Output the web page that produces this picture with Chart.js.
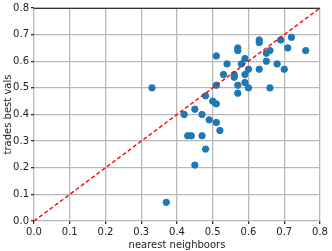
<!DOCTYPE html>
<html>
<head>
<meta charset="utf-8">
<script src="https://cdn.jsdelivr.net/npm/chart.js@4/dist/chart.umd.min.js"></script>
<style>
  html, body { margin:0; padding:0; background:#fff; }
  #wrap { width:332px; height:251px; position:relative; }
</style>
</head>
<body>
<div id="wrap"><canvas id="chart"></canvas></div>
<script>
/* scatter: nearest neighbours vs trades best vals */

const nnVals = [0.33, 0.37, 0.42, 0.43, 0.44, 0.45, 0.45, 0.47, 0.47, 0.48, 0.48, 0.49, 0.50, 0.51, 0.51, 0.51, 0.51, 0.52,
  0.53, 0.54, 0.56, 0.56, 0.57, 0.57, 0.57, 0.57, 0.58, 0.59, 0.59, 0.59, 0.60, 0.60, 0.63, 0.63, 0.63,
  0.65, 0.65, 0.66, 0.66, 0.68, 0.69, 0.70, 0.71, 0.72, 0.76];
const tradeVals = [0.50, 0.07, 0.40, 0.32, 0.32, 0.42, 0.21, 0.40, 0.32, 0.47, 0.27, 0.38, 0.45, 0.44, 0.37, 0.51, 0.62, 0.34,
  0.55, 0.59, 0.55, 0.54, 0.65, 0.64, 0.51, 0.48, 0.59, 0.61, 0.55, 0.52, 0.57, 0.50, 0.68, 0.67, 0.57,
  0.63, 0.60, 0.64, 0.50, 0.59, 0.68, 0.57, 0.65, 0.69, 0.64];
const diagX = [0, 0.8];
const diagY = [0, 0.8];
const tickVals = [0, 0.1, 0.2, 0.3, 0.4, 0.5, 0.6, 0.7, 0.8];

Chart.defaults.font.family = '"DejaVu Sans", sans-serif';
Chart.defaults.font.size = 10;
Chart.defaults.color = '#222';

const topSpine = {
  id: 'topSpine',
  afterDraw(chart) {
    const { ctx, chartArea: a } = chart;
    ctx.save();
    ctx.strokeStyle = '#333';
    ctx.lineWidth = 1;
    ctx.beginPath();
    ctx.moveTo(a.left, a.top + 0.5);
    ctx.lineTo(a.right, a.top + 0.5);
    ctx.stroke();
    ctx.restore();
  }
};

const axisOpts = (title, fixW, fixH) => ({
  type: 'linear', min: 0, max: 0.8,
  afterBuildTicks: s => { s.ticks = tickVals.map(v => ({ value: v })); },
  afterFit: s => { if (fixW) s.width = fixW; if (fixH) s.height = fixH; },
  border: { display: false },
  grid: { color: '#b8b8b8', lineWidth: 1.3, tickColor: '#333', tickLength: 3, drawTicks: true },
  ticks: { color: '#222', padding: 2, font: { size: 10 }, callback: v => v.toFixed(1) },
  title: { display: true, text: title, color: '#222', font: { size: 10 }, padding: { top: 2, bottom: 0 } }
});

const ctx = document.getElementById('chart').getContext('2d');
new Chart(ctx, {
  type: 'scatter',
  data: {
    datasets: [
      {
        label: 'points',
        data: nnVals.map((x, i) => ({ x, y: tradeVals[i] })),
        backgroundColor: '#1f77b4', borderColor: '#1f77b4',
        pointRadius: 3.2, pointHoverRadius: 3.2, order: 2
      },
      {
        label: 'diag', type: 'line',
        data: diagX.map((x, i) => ({ x, y: diagY[i] })),
        borderColor: '#ff0000', borderWidth: 1.4, borderDash: [4, 2.5],
        pointRadius: 0, fill: false, order: 1
      }
    ]
  },
  options: {
    responsive: true, maintainAspectRatio: false, animation: false,
    layout: { padding: { top: 8, right: 12, left: 0, bottom: 0 } },
    plugins: { legend: { display: false }, tooltip: { enabled: false } },
    scales: {
      x: axisOpts('nearest neighboors', null, 30),
      y: axisOpts('trades best vals', 34, null)
    }
  },
  plugins: [topSpine]
});
</script>
</body>
</html>
